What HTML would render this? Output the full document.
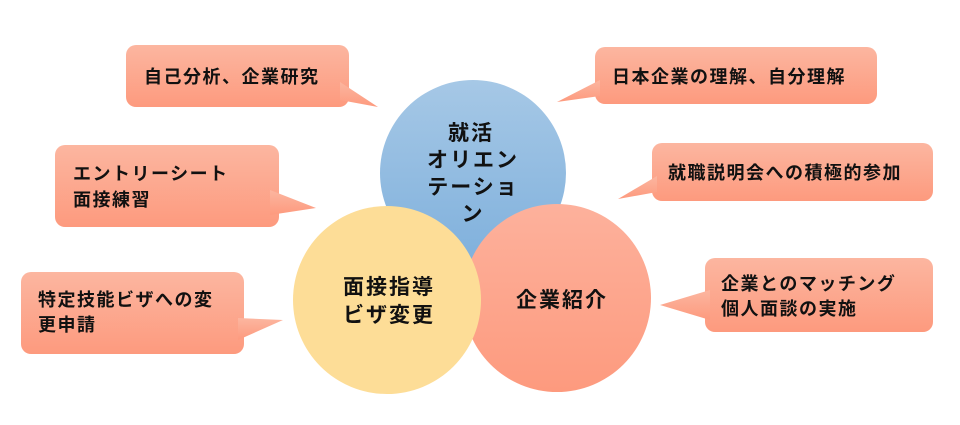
<!DOCTYPE html>
<html><head><meta charset="utf-8"><style>
body{margin:0;background:#fff;}
svg text{font-family:"Liberation Sans","Noto Sans CJK JP",sans-serif;font-weight:bold;fill:#111;}
</style></head><body>
<svg width="960" height="420" viewBox="0 0 960 420" xmlns="http://www.w3.org/2000/svg">
<defs>
<linearGradient id="c" x1="0" y1="0" x2="0" y2="1"><stop offset="0" stop-color="#fcb6a0"/><stop offset="1" stop-color="#fd9a7e"/></linearGradient>
<linearGradient id="b" x1="0" y1="0" x2="0" y2="1"><stop offset="0" stop-color="#a6c8e6"/><stop offset="1" stop-color="#7fb0dc"/></linearGradient>
<linearGradient id="p" x1="0" y1="0" x2="0" y2="1"><stop offset="0" stop-color="#fdb19c"/><stop offset="1" stop-color="#fd9a7e"/></linearGradient>
</defs>
<g fill="url(#c)">
<rect x="126" y="45" width="223" height="62" rx="10"/><polygon points="340,82 340,100 378,107"/>
<rect x="55" y="145" width="224" height="82" rx="10"/><polygon points="270,190 270,215 316,208"/>
<rect x="595" y="47" width="282" height="57" rx="10"/><polygon points="600,80 600,96 557,102"/>
<rect x="652" y="143" width="281" height="58" rx="10"/><polygon points="657,176 657,192 618,199"/>
<rect x="705" y="258" width="228" height="74" rx="10"/><polygon points="710,290 710,320 660,305"/>
<rect x="21" y="272" width="223" height="82" rx="10"/><polygon points="238,318 238,340 283,320"/>
</g>
<circle cx="473" cy="173" r="93" fill="url(#b)"/>
<circle cx="557" cy="298" r="94" fill="url(#p)"/>
<circle cx="387" cy="300" r="94" fill="#fddd97"/>
<g font-size="18" letter-spacing="1.5">
<text x="144" y="83">自己分析、企業研究</text>
<text x="73" y="180">エントリーシート</text>
<text x="73" y="206">面接練習</text>
<text x="612" y="83">日本企業の理解、自分理解</text>
<text x="668" y="179">就職説明会への積極的参加</text>
<text x="721" y="290">企業とのマッチング</text>
<text x="721" y="315">個人面談の実施</text>
<text x="38" y="306">特定技能ビザへの変</text>
<text x="38" y="331">更申請</text>
</g>
<g font-size="21" text-anchor="middle" letter-spacing="2">
<text x="471" y="140">就活</text>
<text x="473" y="167">オリエン</text>
<text x="473" y="194">テーショ</text>
<text x="473" y="221">ン</text>
<text x="389" y="294">面接指導</text>
<text x="389" y="322">ビザ変更</text>
<text x="562" y="307">企業紹介</text>
</g>
</svg>
</body></html>
